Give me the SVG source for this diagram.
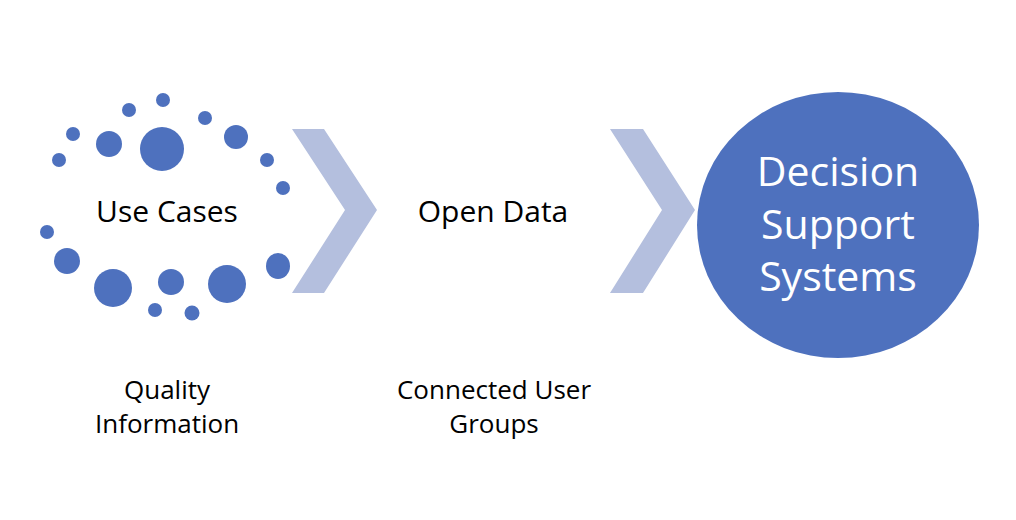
<svg xmlns="http://www.w3.org/2000/svg" width="1016" height="520" viewBox="0 0 1016 520">
  <style>
    .dot { fill: #4E71BE; }
    .chev { fill: #B4BFDE; }
    .t { font-family: "Open Sans", "Liberation Sans", sans-serif; fill: #000; text-anchor: middle; }
    .big { font-size: 30px; }
    .small { font-size: 26px; }
    .dss { font-family: "Open Sans", "Liberation Sans", sans-serif; fill: #FFFFFF; text-anchor: middle; font-size: 41px; }
  </style>
  <rect width="1016" height="520" fill="#FFFFFF"/>

  <g id="use-cases">
    <circle class="dot" cx="163" cy="100" r="7"/>
    <circle class="dot" cx="129" cy="110" r="7"/>
    <circle class="dot" cx="205" cy="118" r="7"/>
    <circle class="dot" cx="73" cy="134" r="7"/>
    <circle class="dot" cx="109" cy="144" r="13"/>
    <circle class="dot" cx="162" cy="149" r="22"/>
    <circle class="dot" cx="236" cy="137" r="12"/>
    <circle class="dot" cx="59" cy="160" r="7"/>
    <circle class="dot" cx="267" cy="160" r="7"/>
    <circle class="dot" cx="283" cy="188" r="7"/>
    <circle class="dot" cx="47" cy="232" r="7"/>
    <circle class="dot" cx="67" cy="261" r="13"/>
    <circle class="dot" cx="113" cy="288" r="19"/>
    <circle class="dot" cx="171" cy="282" r="13"/>
    <circle class="dot" cx="227" cy="284" r="19"/>
    <ellipse class="dot" cx="278" cy="266" rx="12" ry="13"/>
    <circle class="dot" cx="155" cy="310" r="7"/>
    <circle class="dot" cx="192" cy="313" r="7.5"/>
    <text class="t big" x="167" y="222">Use Cases</text>
    <text class="t small" x="167" y="399">Quality</text>
    <text class="t small" x="167" y="433">Information</text>
  </g>

  <g id="connectors">
    <polygon class="chev" points="292,129 324,129 377,210 324,293 292,293 345,210"/>
    <polygon class="chev" points="610,129 643,129 695,210 643,293 610,293 662,210"/>
  </g>

  <g id="open-data">
    <text class="t big" x="493" y="222">Open Data</text>
    <text class="t small" x="494" y="399">Connected User</text>
    <text class="t small" x="494" y="433">Groups</text>
  </g>

  <g id="decision-support-systems">
    <ellipse class="dot" cx="838" cy="225" rx="141" ry="133"/>
    <text class="dss" x="838" y="186">Decision</text>
    <text class="dss" x="838" y="239">Support</text>
    <text class="dss" x="838" y="291">Systems</text>
  </g>
</svg>
